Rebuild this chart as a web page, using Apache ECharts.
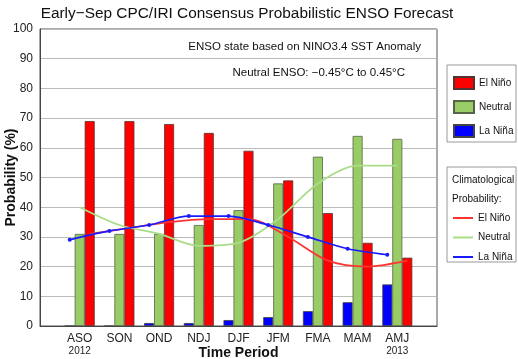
<!DOCTYPE html>
<html><head><meta charset="utf-8">
<script src="https://cdn.jsdelivr.net/npm/echarts@6/dist/echarts.min.js"></script>
<style>html,body{margin:0;padding:0;background:#fff}#c{width:518px;height:359px}</style>
</head><body><div id="c"></div>
<script>
const categories = ['ASO','SON','OND','NDJ','DJF','JFM','FMA','MAM','AMJ'];
const yearLabels = ['2012','','','','','','','','2013'];
const yTicks = [0,10,20,30,40,50,60,70,80,90,100];
const elNino  = [69,69,68,65,59,49,38,28,23];
const neutral = [31,31,31,34,39,48,57,64,63];
const laNina  = [0,0,1,1,2,3,5,8,14];
const climElNino  = [31,33,35,36,36,30,22,20,22];
const climNeutral = [40,34,31,27,28,36,48,54,54];
const climLaNina  = [29,32,34,37,37,34,30,26,24];

const FONT = 'Liberation Sans, Arial, sans-serif';
const W = 518, H = 359;
const G = {left: 40, right: 81, top: 29, bottom: 33};
const BAR_W = 10;
const slots = categories.length + 1;
const bandPx = (W - G.left - G.right) / slots;
const off = BAR_W / bandPx;
const LEG_FS = 10;

const axisCats = [''].concat(categories, ['']);
const yearOf = {}; categories.forEach((c,i)=>yearOf[c]=yearLabels[i]);
const pad = arr => ['-'].concat(arr, ['-']);
const linePts = (arr, shift) => arr.map((v,i)=>[i+1+shift, v]);

const chart = echarts.init(document.getElementById('c'));
chart.setOption({
  animation: false,
  textStyle: {fontFamily: FONT},
  title: {text: 'Early\u2212Sep CPC/IRI Consensus Probabilistic ENSO Forecast', left: 242, textAlign: 'center', top: 1,
    textStyle: {fontFamily: FONT, fontSize: 15.4, fontWeight: 'normal', color: '#111'}},
  grid: {left: G.left, right: G.right, top: G.top, bottom: G.bottom, show: true, borderColor: '#555', borderWidth: 1,
    outerBoundsMode: 'none', containLabel: false},
  xAxis: [{
    type: 'category', data: axisCats, boundaryGap: false,
    axisLine: {lineStyle: {color: '#444'}}, axisTick: {show: false},
    axisLabel: {interval: 0, margin: 6, color: '#222', fontFamily: FONT,
      formatter: v => v ? '{c|' + v + '}\n{y|' + (yearOf[v] || ' ') + '}' : '',
      rich: {c: {fontSize: 12, lineHeight: 13, fontFamily: FONT, color: '#222'},
             y: {fontSize: 10, lineHeight: 12, fontFamily: FONT, color: '#222'}}},
    name: 'Time Period', nameLocation: 'middle', nameGap: 20, nameMoveOverlap: false,
    nameTextStyle: {fontFamily: FONT, fontSize: 14, fontWeight: 'bold', color: '#111'}
  }, {
    type: 'value', min: 0, max: slots, show: false
  }],
  yAxis: {
    type: 'value', min: yTicks[0], max: yTicks[yTicks.length-1], interval: yTicks[1]-yTicks[0],
    axisLine: {show: true, lineStyle: {color: '#444'}}, axisTick: {show: false},
    splitLine: {lineStyle: {color: '#bbb'}},
    axisLabel: {margin: 7, fontSize: 12, color: '#222', fontFamily: FONT},
    name: 'Probability (%)', nameLocation: 'middle', nameGap: 22, nameMoveOverlap: false,
    nameTextStyle: {fontFamily: FONT, fontSize: 14, fontWeight: 'bold', color: '#111'}
  },
  legend: [{
    left: 453, top: 76, orient: 'vertical', padding: 0, itemWidth: 20, itemHeight: 12, itemGap: 10, itemTextGap: 4,
    selectedMode: false,
    data: [{name: 'El Niño', icon: 'rect'}, {name: 'Neutral', icon: 'rect'}, {name: 'La Niña', icon: 'rect'}],
    textStyle: {fontFamily: FONT, fontSize: LEG_FS, lineHeight: 12, color: '#111'}
  }, {
    left: 453, top: 212, orient: 'vertical', padding: 0, itemWidth: 20, itemHeight: 2, itemGap: 7.5, itemTextGap: 4,
    selectedMode: false,
    data: [{name: 'El Niño ', icon: 'rect'}, {name: 'Neutral ', icon: 'rect'}, {name: 'La Niña ', icon: 'rect'}],
    formatter: n => n.trim(),
    textStyle: {fontFamily: FONT, fontSize: LEG_FS, lineHeight: 12, color: '#111'}
  }],
  graphic: [
    {type: 'rect', z: -1, shape: {x: 447, y: 65, width: 69, height: 77}, style: {fill: '#fff', stroke: '#999', lineWidth: 1}},
    {type: 'rect', z: -1, shape: {x: 447, y: 167, width: 69, height: 95}, style: {fill: '#fff', stroke: '#999', lineWidth: 1}},
    {type: 'text', x: 452, y: 180, style: {text: 'Climatological', font: LEG_FS + 'px ' + FONT, fill: '#111', verticalAlign: 'middle'}},
    {type: 'text', x: 452, y: 199, style: {text: 'Probability:', font: LEG_FS + 'px ' + FONT, fill: '#111', verticalAlign: 'middle'}},
    {type: 'text', x: 421, y: 47, style: {text: 'ENSO state based on NINO3.4 SST Anomaly', font: '11.5px ' + FONT, fill: '#111', align: 'right', verticalAlign: 'middle'}},
    {type: 'text', x: 405, y: 73, style: {text: 'Neutral ENSO: \u22120.45°C to 0.45°C', font: '11.5px ' + FONT, fill: '#111', align: 'right', verticalAlign: 'middle'}}
  ],
  series: [
    {name: 'La Niña', type: 'bar', data: pad(laNina), barWidth: BAR_W, barGap: '0%',
      itemStyle: {color: '#0000ff', borderColor: '#444', borderWidth: 0.8}},
    {name: 'Neutral', type: 'bar', data: pad(neutral), barWidth: BAR_W, barGap: '0%',
      itemStyle: {color: '#99cc66', borderColor: '#556644', borderWidth: 0.8}},
    {name: 'El Niño', type: 'bar', data: pad(elNino), barWidth: BAR_W, barGap: '0%',
      itemStyle: {color: '#ff0000', borderColor: '#553333', borderWidth: 0.8}},
    {name: 'El Niño ', type: 'line', xAxisIndex: 1, data: linePts(climElNino, off), smooth: 0.3, symbol: 'none',
      lineStyle: {color: '#ff3333', width: 1.7}, itemStyle: {color: '#ff3333'}, z: 3},
    {name: 'Neutral ', type: 'line', xAxisIndex: 1, data: linePts(climNeutral, 0), smooth: 0.3, symbol: 'none',
      lineStyle: {color: '#aadd88', width: 1.8}, itemStyle: {color: '#aadd88'}, z: 3},
    {name: 'La Niña ', type: 'line', xAxisIndex: 1, data: linePts(climLaNina, -off), smooth: 0.3, symbol: 'circle', symbolSize: 4,
      lineStyle: {color: '#1a1aff', width: 1.7}, itemStyle: {color: '#1a1aff'}, z: 3}
  ]
});
</script></body></html>
